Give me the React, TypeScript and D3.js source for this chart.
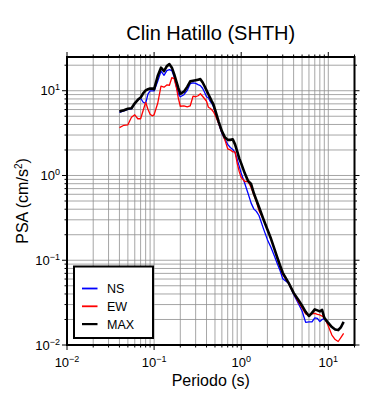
import React from 'react'
import * as d3 from 'd3'

// periods (s) and spectral accelerations (cm/s2)
const periods = [
  0.04, 0.045, 0.05, 0.055, 0.06, 0.065, 0.07, 0.075, 0.08, 0.085, 0.09, 0.095,
  0.1, 0.11, 0.12, 0.13, 0.14, 0.15, 0.16, 0.17, 0.18, 0.19, 0.2,
  0.22, 0.24, 0.26, 0.28, 0.3, 0.32, 0.34, 0.36, 0.38, 0.4, 0.42, 0.44, 0.46, 0.48,
  0.5, 0.55, 0.6, 0.65, 0.7, 0.75, 0.8, 0.85, 0.9, 0.95,
  1.0, 1.1, 1.2, 1.3, 1.4, 1.5, 1.6,
  1.8, 2.0, 2.2, 2.4, 2.6, 2.8, 3.0,
  3.5, 4.0, 4.5, 5.0, 5.5, 6.0, 6.5, 7.0, 7.5, 8.0, 8.5, 9.0,
  10, 11, 12, 13, 14, 15,
]

const nsValues = [
  5.56, 5.8, 6.04, 6.12, 7.01, 7.72, 8.15, 7.31, 7.11, 9.1, 9.95, 9.95,
  9.95, 12.9, 17.0, 15.2, 17.3, 17.7, 17.3, 14.5, 11.3, 9.1, 8.49,
  8.97, 10.1, 12.1, 12.4, 12.2, 11.8, 11.5, 10.7, 9.6, 8.49, 8.26, 7.51, 7.11, 6.47,
  5.71, 4.12, 3.14, 2.67, 2.33, 2.14, 2.03, 1.87, 1.55, 1.28,
  1.06, 0.803, 0.612, 0.472, 0.401, 0.375, 0.337,
  0.236, 0.175, 0.141, 0.113, 0.0909, 0.0752, 0.0604,
  0.0537, 0.0396, 0.0314, 0.0252, 0.0185, 0.0187, 0.0187, 0.0209, 0.0206, 0.0189, 0.02, 0.0204,
  0.0177, 0.0163, 0.0152, 0.0152, 0.0161, 0.0187,
]

const ewValues = [
  3.67, 3.91, 3.96, 4.86, 5.2, 4.67, 4.67, 5.88, 7.31, 6.04, 5.27, 5.06,
  5.2, 7.11, 11.3, 11.0, 11.7, 11.6, 14.3, 13.9, 11.0, 8.15, 6.56,
  6.64, 6.47, 6.64, 8.61, 8.49, 8.73, 9.21, 8.61, 8.04, 7.51, 6.38, 6.21, 5.96, 5.64,
  5.2, 4.12, 3.23, 2.63, 2.06, 2.0, 1.9, 1.9, 1.39, 1.11,
  0.946, 0.849, 0.849, 0.721, 0.588, 0.485, 0.385,
  0.305, 0.23, 0.179, 0.137, 0.107, 0.0838, 0.0682,
  0.0537, 0.0407, 0.0327, 0.0274, 0.0233, 0.0223, 0.0233, 0.0236, 0.023, 0.0226, 0.0219, 0.0212,
  0.0168, 0.0131, 0.0116, 0.011, 0.0123, 0.0137,
]

const maxValues = [
  5.67, 5.88, 6.12, 6.21, 7.11, 7.82, 8.3, 9.34, 10.1, 10.4, 10.6, 10.6,
  10.4, 14.9, 18.7, 17.0, 19.5, 20.6, 18.7, 15.7, 12.9, 10.7, 9.21,
  9.73, 11.1, 12.9, 13.1, 13.3, 13.5, 13.7, 12.6, 11.3, 10.1, 9.1, 8.26, 7.51, 6.92,
  6.04, 4.35, 3.34, 2.82, 2.63, 2.63, 2.67, 2.33, 1.92, 1.59,
  1.39, 1.06, 0.861, 0.793, 0.612, 0.506, 0.424,
  0.305, 0.23, 0.179, 0.137, 0.107, 0.0861, 0.0711,
  0.0542, 0.0412, 0.0345, 0.029, 0.0246, 0.022, 0.0239, 0.0263, 0.0256, 0.0249, 0.0259, 0.0209,
  0.0182, 0.0163, 0.0152, 0.015, 0.0163, 0.0187,
]

const xDecades = [-2, -1, 0, 1]
const yDecades = [-2, -1, 0, 1]

const series = [
  { name: 'NS', values: nsValues, color: '#0000ff', width: 1.3 },
  { name: 'EW', values: ewValues, color: '#ff0000', width: 1.3 },
  { name: 'MAX', values: maxValues, color: '#000000', width: 2.6 },
]

const FONT = '"Liberation Sans", Arial, Helvetica, sans-serif'
const W = 390
const H = 400
const M = { left: 67, right: 354.5, top: 57, bottom: 345 }

function logSteps(lo: number, hi: number) {
  const out: { v: number; major: boolean }[] = []
  for (let e = -3; e <= 2; e++) {
    for (let k = 1; k <= 9; k++) {
      const v = k * Math.pow(10, e)
      if (v >= lo * 0.999 && v <= hi * 1.001) out.push({ v, major: k === 1 })
    }
  }
  return out
}

export default function App() {
  const x = d3.scaleLog().domain([0.01, 20]).range([M.left, M.right])
  const y = d3.scaleLog().domain([0.01, 25]).range([M.bottom, M.top])

  const xs = logSteps(0.01, 20)
  const ys = logSteps(0.01, 25)

  const line = (vals: number[]) =>
    d3.line<number>()
      .x((_, i) => x(periods[i]))
      .y(d => y(d))(vals) || ''

  const major = 5
  const minor = 2.5

  return (
    <svg width={W} height={H} style={{ position: 'absolute', left: 0, top: 0, background: '#fff' }}
      fontFamily={FONT}>
      <defs>
        <clipPath id="plot">
          <rect x={M.left} y={M.top} width={M.right - M.left} height={M.bottom - M.top} />
        </clipPath>
      </defs>
      <rect x={0} y={0} width={W} height={H} fill="#fff" />

      {/* grid */}
      <g stroke="#8f8f8f" strokeWidth={0.8}>
        {xs.map((t, i) => (
          <line key={'gx' + i} x1={x(t.v)} x2={x(t.v)} y1={M.top} y2={M.bottom} />
        ))}
        {ys.map((t, i) => (
          <line key={'gy' + i} x1={M.left} x2={M.right} y1={y(t.v)} y2={y(t.v)} />
        ))}
      </g>

      {/* curves */}
      <g clipPath="url(#plot)" fill="none" strokeLinejoin="round">
        {series.map(s => (
          <path key={s.name} d={line(s.values)} stroke={s.color} strokeWidth={s.width} />
        ))}
      </g>

      {/* ticks on all four sides */}
      <g stroke="#000" strokeWidth={1}>
        {xs.map((t, i) => {
          const len = t.major ? major : minor
          return (
            <g key={'tx' + i}>
              <line x1={x(t.v)} x2={x(t.v)} y1={M.bottom} y2={M.bottom + len} />
              <line x1={x(t.v)} x2={x(t.v)} y1={M.top} y2={M.top - len} />
            </g>
          )
        })}
        {ys.map((t, i) => {
          const len = t.major ? major : minor
          return (
            <g key={'ty' + i}>
              <line x1={M.left} x2={M.left - len} y1={y(t.v)} y2={y(t.v)} />
              <line x1={M.right} x2={M.right + len} y1={y(t.v)} y2={y(t.v)} />
            </g>
          )
        })}
      </g>

      {/* frame */}
      <rect x={M.left} y={M.top} width={M.right - M.left} height={M.bottom - M.top}
        fill="none" stroke="#000" strokeWidth={2} />

      {/* tick labels */}
      <g fontSize={13} fill="#000">
        {xDecades.map(e => (
          <text key={'lx' + e} x={x(Math.pow(10, e))} y={367} textAnchor="middle">
            10<tspan dy={-5} fontSize={9}>{e < 0 ? '\u2212' + -e : e}</tspan>
          </text>
        ))}
        {yDecades.map(e => (
          <text key={'ly' + e} x={60} y={y(Math.pow(10, e)) + 4.5} textAnchor="end">
            10<tspan dy={-5} fontSize={9}>{e < 0 ? '\u2212' + -e : e}</tspan>
          </text>
        ))}
      </g>

      {/* titles */}
      <text x={(M.left + M.right) / 2} y={40} textAnchor="middle" fontSize={20}>
        Clin Hatillo (SHTH)
      </text>
      <text x={(M.left + M.right) / 2} y={386} textAnchor="middle" fontSize={16}>
        Periodo (s)
      </text>
      <text transform={`translate(28,${(M.top + M.bottom) / 2}) rotate(-90)`} textAnchor="middle" fontSize={16}>
        PSA (cm/s<tspan dy={-6} fontSize={10}>2</tspan><tspan dy={6}>)</tspan>
      </text>

      {/* legend */}
      <g>
        <rect x={74} y={266.5} width={79} height={71.5} fill="#fff" stroke="#000" strokeWidth={2} />
        {series.map((s, i) => {
          const ly = 288.5 + i * 17.8
          return (
            <g key={'lg' + s.name}>
              <line x1={82} x2={97.5} y1={ly} y2={ly} stroke={s.color} strokeWidth={s.name === 'MAX' ? 2.2 : 1.8} />
              <text x={107} y={ly + 4.5} fontSize={12.5}>{s.name}</text>
            </g>
          )
        })}
      </g>
    </svg>
  )
}
